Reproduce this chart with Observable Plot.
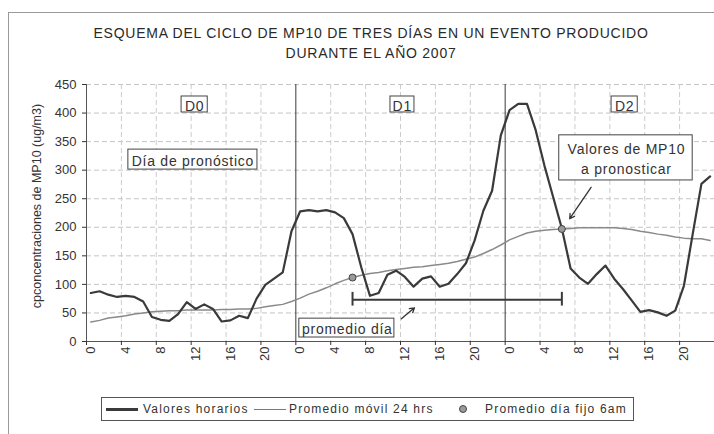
<!DOCTYPE html>
<html><head><meta charset="utf-8">
<script src="https://cdn.jsdelivr.net/npm/d3@7"></script>
<script src="https://cdn.jsdelivr.net/npm/@observablehq/plot@0.6"></script>
<style>
body{margin:0;background:#fff;font-family:"Liberation Sans",Arial,sans-serif;color:#333}
#wrap{position:relative;width:714px;height:434px;overflow:hidden}
#frame{position:absolute;left:8px;top:12px;right:-4px;bottom:-4px;border-left:1px solid #9a9a9a;border-top:1px solid #9a9a9a}
#title{position:absolute;left:21px;width:700px;top:23px;text-align:center;font-size:14px;letter-spacing:0.75px;line-height:20px;color:#2a2a2a}
#chart{position:absolute;left:0;top:70px}
#legend{position:absolute;left:101px;top:397px;width:531px;height:22px;border:1px solid #555;font-size:12px;letter-spacing:1.2px;color:#333}
#legend span{position:absolute;top:0;line-height:22px;white-space:nowrap}
#legend i{position:absolute;display:block}
</style></head>
<body>
<div id="wrap">
  <div id="frame"></div>
  <div id="title">ESQUEMA DEL CICLO DE MP10 DE TRES DÍAS EN UN EVENTO PRODUCIDO<br>DURANTE EL AÑO 2007</div>
  <div id="chart"></div>
  <div id="legend">
    <i style="left:4px;top:10px;width:32px;height:2.5px;background:#3a3a3a"></i>
    <span style="left:41px">Valores horarios</span>
    <i style="left:152px;top:10.5px;width:32px;height:1.5px;background:#7a7a7a"></i>
    <span style="left:187px">Promedio móvil 24 hrs</span>
    <i style="left:357px;top:7px;width:6px;height:6px;border-radius:50%;background:#9a9a9a;border:1px solid #444"></i>
    <span style="left:383px">Promedio día fijo 6am</span>
  </div>
</div>
<script>
// Hourly MP10 values (ug/m3), 3 days x 24 hours
const hourlyD0 = [85, 88, 82, 78, 80, 78, 70, 43, 38, 36, 48, 69, 57, 65, 57, 35, 37, 45, 41, 75, 99, 110, 121, 193];
const hourlyD1 = [228, 230, 228, 230, 226, 216, 188, 130, 80, 85, 117, 124, 113, 96, 110, 114, 96, 101, 118, 137, 177, 229, 264, 361];
const hourlyD2 = [405, 416, 416, 370, 308, 253, 198, 128, 112, 101, 118, 133, 110, 92, 72, 52, 55, 51, 45, 54, 98, 188, 276, 289];
// 24-hour moving average
const movingD0 = [34, 37, 41, 43, 45, 48, 50, 52, 53, 54, 54, 55, 55, 55, 55, 56, 56, 57, 57, 58, 61, 63, 65, 70];
const movingD1 = [76, 83, 88, 94, 101, 107, 112, 116, 119, 121, 124, 126, 128, 130, 131, 133, 135, 137, 140, 144, 148, 154, 161, 169];
const movingD2 = [178, 184, 190, 193, 195, 196, 197, 198, 199, 199, 199, 199, 199, 198, 196, 193, 191, 188, 186, 183, 181, 180, 180, 177];
// Fixed daily average at 6am
const dotHours = [30, 54];
const dotValues = [112, 197];
// Axis ticks
const tickHours = [0, 4, 8, 12, 16, 20];
const dayStarts = [24, 48];
const yTicks = [0, 50, 100, 150, 200, 250, 300, 350, 400, 450];
const yLabel = "cpconcentraciones de MP10 (ug/m3)";
// Annotations (data coordinates)
const boxTexts = ["D0", "D1", "D2", "Día de pronóstico", "Valores de MP10\na pronosticar", "promedio día"];
const boxX = [12.4, 36.2, 61.7, 12.2, 61.9, 29.9];
const boxY = [415, 415, 415, 318.5, 322.5, 24];
const boxX1 = [10.9, 34.85, 60.2, 4.8, 54.2, 24.4];
const boxX2 = [13.9, 37.6, 63.2, 19.6, 69.5, 35.3];
const boxY1 = [401, 401, 401, 301, 282, 7];
const boxY2 = [429, 429, 429, 336, 361, 40];
const bracketFrom = 30.5, bracketTo = 54.5, bracketValue = 73, bracketLow = 62, bracketHigh = 86;
const arrowX1 = [57.85, 36.1], arrowY1 = [270, 39.7], arrowX2 = [55.4, 37.6], arrowY2 = [215, 59];

const hourly = [...hourlyD0, ...hourlyD1, ...hourlyD2];
const moving = [...movingD0, ...movingD1, ...movingD2];
const rows = hourly.map((v, i) => ({x: i + 0.5, hourly: v, ma: moving[i]}));
const dots = dotHours.map((h, i) => ({x: h + 0.5, y: dotValues[i]}));
const boxes = boxTexts.map((t, i) => ({text: t, x: boxX[i], y: boxY[i], x1: boxX1[i], x2: boxX2[i], y1: boxY1[i], y2: boxY2[i]}));
const arrows = arrowX1.map((_, i) => ({x1: arrowX1[i], y1: arrowY1[i], x2: arrowX2[i], y2: arrowY2[i]}));
const boundaries = [0, 24, 48].flatMap(d => tickHours.map(h => d + h)).concat([72]);
const gridBounds = boundaries.filter(b => b % 24 !== 0);
const centers = [0, 24, 48].flatMap(d => tickHours.map(h => d + h + 0.5));

const chart = Plot.plot({
  width: 714, height: 310,
  marginTop: 14, marginLeft: 86, marginRight: 0, marginBottom: 39,
  x: {domain: [0, 72]},
  y: {domain: [0, 450]},
  style: {fontFamily: '"Liberation Sans", Arial, sans-serif', fontSize: "13px", color: "#333", background: "transparent", overflow: "visible"},
  marks: [
    Plot.gridY(yTicks.slice(1), {stroke: "#c4c4c4", strokeOpacity: 1, strokeDasharray: "5,3"}),
    Plot.gridX(gridBounds, {stroke: "#cccccc", strokeOpacity: 1, strokeDasharray: "5,3"}),
    Plot.ruleX(dayStarts, {stroke: "#3a3a3a", strokeWidth: 1}),
    Plot.ruleX([0], {stroke: "#555", strokeWidth: 1}),
    Plot.ruleY([0], {stroke: "#555", strokeWidth: 1}),
    Plot.axisY({ticks: yTicks, tickSize: 4, tickPadding: 6, fontSize: 13, label: null}),
    Plot.text([yLabel], {frameAnchor: "left", textAnchor: "middle", rotate: -90, dx: -50, dy: -7, fontSize: 12.5, fill: "#333"}),
    Plot.axisX({ticks: boundaries, tickSize: 4, tickFormat: () => "", label: null}),
    Plot.axisX({ticks: centers, tickSize: 0, tickPadding: 5, tickRotate: -90, fontSize: 13, tickFormat: d => String(Math.round(d - 0.5) % 24), label: null}),
    Plot.line(rows, {x: "x", y: "ma", stroke: "#8a8a8a", strokeWidth: 1.5}),
    Plot.line(rows, {x: "x", y: "hourly", stroke: "#3a3a3a", strokeWidth: 2.2}),
    Plot.ruleY([bracketValue], {x1: bracketFrom, x2: bracketTo, stroke: "#3a3a3a", strokeWidth: 2}),
    Plot.ruleX([bracketFrom, bracketTo], {y1: bracketLow, y2: bracketHigh, stroke: "#3a3a3a", strokeWidth: 2}),
    Plot.dot(dots, {x: "x", y: "y", r: 3.5, fill: "#9a9a9a", stroke: "#444", strokeWidth: 1}),
    Plot.rect(boxes, {x1: "x1", x2: "x2", y1: "y1", y2: "y2", fill: "white", stroke: "#444", strokeWidth: 1}),
    Plot.text(boxes, {x: "x", y: "y", text: "text", fontSize: 14, fill: "#333", lineHeight: 1.43}),
    Plot.arrow(arrows, {x1: "x1", y1: "y1", x2: "x2", y2: "y2", stroke: "#333", strokeWidth: 1.3, headLength: 6})
  ]
});
// widen annotation lettering like the original
d3.select(chart).selectAll("g").filter(function () {
  return Array.from(this.children).some(c => c.tagName === "text" && c.textContent === "D0");
}).style("letter-spacing", "0.75px");
document.getElementById("chart").append(chart);
</script>
</body></html>
